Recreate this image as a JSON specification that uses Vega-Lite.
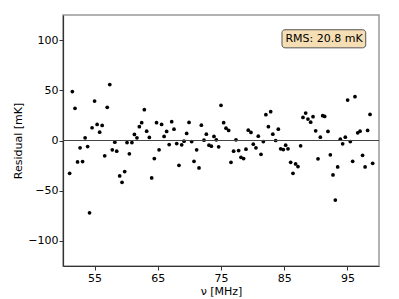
{
  "$schema": "https://vega.github.io/schema/vega-lite/v6.json",
  "width": 316,
  "height": 251,
  "autosize": {"type": "none"},
  "padding": {"left": 63, "top": 15, "right": 20, "bottom": 33},
  "background": "white",
  "config": {
    "view": {"stroke": "#999", "strokeWidth": 1.5},
    "font": "DejaVu Sans",
    "axis": {
      "grid": false,
      "domainColor": "#333",
      "domainWidth": 1.2,
      "tickColor": "#333",
      "tickSize": 4,
      "labelFont": "DejaVu Sans",
      "titleFont": "DejaVu Sans",
      "labelFontSize": 11,
      "titleFontSize": 11,
      "labelColor": "#000",
      "titleColor": "#000",
      "titleFontWeight": "normal",
      "labelFlush": false,
      "labelOverlap": false,
      "labelSeparation": -30
    }
  },
  "layer": [
    {
      "data": {"values": [
        {"nu": 51.05, "res": -32.7}, {"nu": 51.48, "res": 48.7}, {"nu": 51.9, "res": 32.0}, {"nu": 52.3, "res": -21.3},
        {"nu": 52.7, "res": -7.3}, {"nu": 53.1, "res": -21.0}, {"nu": 53.5, "res": 2.7}, {"nu": 53.9, "res": -6.0},
        {"nu": 54.2, "res": -72.0}, {"nu": 54.6, "res": 12.7}, {"nu": 55.0, "res": 39.3}, {"nu": 55.4, "res": 16.0},
        {"nu": 55.8, "res": 8.3}, {"nu": 56.2, "res": 15.0}, {"nu": 56.6, "res": -15.3}, {"nu": 57.0, "res": 33.0},
        {"nu": 57.4, "res": 55.7}, {"nu": 57.8, "res": -9.3}, {"nu": 58.2, "res": -1.7}, {"nu": 58.5, "res": -10.7},
        {"nu": 58.97, "res": -35.3}, {"nu": 59.34, "res": -41.7}, {"nu": 59.76, "res": -31.0}, {"nu": 60.13, "res": -2.0},
        {"nu": 60.5, "res": -13.3}, {"nu": 60.9, "res": -2.0}, {"nu": 61.3, "res": 6.0}, {"nu": 61.7, "res": 2.7},
        {"nu": 62.08, "res": 13.7}, {"nu": 62.45, "res": 17.7}, {"nu": 62.87, "res": 30.7}, {"nu": 63.24, "res": 9.3},
        {"nu": 63.66, "res": 3.0}, {"nu": 64.03, "res": -37.3}, {"nu": 64.45, "res": -18.0}, {"nu": 64.8, "res": 17.7},
        {"nu": 65.2, "res": -9.3}, {"nu": 65.6, "res": 16.0}, {"nu": 66.0, "res": 4.0}, {"nu": 66.4, "res": 9.0},
        {"nu": 66.8, "res": -4.0}, {"nu": 67.2, "res": 18.7}, {"nu": 67.56, "res": 11.3}, {"nu": 67.99, "res": -3.0},
        {"nu": 68.35, "res": -24.7}, {"nu": 68.78, "res": -4.3}, {"nu": 69.15, "res": -0.7}, {"nu": 69.57, "res": 7.0},
        {"nu": 69.94, "res": 18.0}, {"nu": 70.36, "res": -1.0}, {"nu": 70.73, "res": -20.7}, {"nu": 71.15, "res": -9.3},
        {"nu": 71.52, "res": -27.3}, {"nu": 71.89, "res": 15.3}, {"nu": 72.31, "res": 0.3}, {"nu": 72.68, "res": 6.3},
        {"nu": 73.1, "res": -4.7}, {"nu": 73.47, "res": -5.7}, {"nu": 73.89, "res": 4.0}, {"nu": 74.26, "res": 0.7},
        {"nu": 74.63, "res": -6.3}, {"nu": 75.0, "res": 35.0}, {"nu": 75.42, "res": 17.7}, {"nu": 75.79, "res": 12.3},
        {"nu": 76.21, "res": 10.0}, {"nu": 76.58, "res": -21.7}, {"nu": 77.0, "res": -10.7}, {"nu": 77.37, "res": 0.7},
        {"nu": 77.79, "res": -10.0}, {"nu": 78.16, "res": -16.7}, {"nu": 78.58, "res": -18.0}, {"nu": 78.95, "res": -8.7},
        {"nu": 79.32, "res": 10.3}, {"nu": 79.74, "res": 8.0}, {"nu": 80.11, "res": -3.7}, {"nu": 80.53, "res": -7.3},
        {"nu": 80.9, "res": 4.3}, {"nu": 81.33, "res": -13.7}, {"nu": 81.7, "res": -1.0}, {"nu": 82.1, "res": 25.7},
        {"nu": 82.5, "res": 13.7}, {"nu": 82.86, "res": 28.7}, {"nu": 83.2, "res": 6.3}, {"nu": 83.65, "res": 0.0},
        {"nu": 84.07, "res": 11.3}, {"nu": 84.44, "res": -8.3}, {"nu": 84.86, "res": -9.0}, {"nu": 85.23, "res": -4.7},
        {"nu": 85.6, "res": -8.3}, {"nu": 86.02, "res": -21.7}, {"nu": 86.39, "res": -32.7}, {"nu": 86.81, "res": -23.3},
        {"nu": 87.18, "res": -26.0}, {"nu": 87.6, "res": -5.3}, {"nu": 87.97, "res": 23.0}, {"nu": 88.4, "res": 27.3},
        {"nu": 88.76, "res": 21.3}, {"nu": 89.19, "res": 18.3}, {"nu": 89.56, "res": 23.7}, {"nu": 89.98, "res": 9.7},
        {"nu": 90.35, "res": -18.3}, {"nu": 90.72, "res": 3.3}, {"nu": 91.09, "res": 24.7}, {"nu": 91.4, "res": 24.0},
        {"nu": 91.93, "res": 9.0}, {"nu": 92.3, "res": -14.3}, {"nu": 92.72, "res": -34.3}, {"nu": 93.09, "res": -59.3},
        {"nu": 93.46, "res": -26.3}, {"nu": 93.88, "res": 1.3}, {"nu": 94.25, "res": -3.3}, {"nu": 94.67, "res": 3.3},
        {"nu": 95.04, "res": 40.3}, {"nu": 95.46, "res": -1.0}, {"nu": 95.83, "res": -20.7}, {"nu": 96.2, "res": 43.7},
        {"nu": 96.63, "res": 7.7}, {"nu": 97.0, "res": 9.3}, {"nu": 97.4, "res": -14.7}, {"nu": 97.8, "res": -26.3},
        {"nu": 98.2, "res": 10.0}, {"nu": 98.58, "res": 26.0}, {"nu": 99.0, "res": -22.7}
      ]},
      "mark": {"type": "circle", "size": 14, "color": "black", "opacity": 1},
      "encoding": {
        "x": {
          "field": "nu", "type": "quantitative",
          "scale": {"domain": [50, 100], "nice": false, "zero": false},
          "axis": {
            "title": "ν [MHz]",
            "titlePadding": 2,
            "values": [55, 60, 65, 70, 75, 80, 85, 90, 95],
            "labelOverlap": false,
            "labelSeparation": -30,
            "labelPadding": 2
          }
        },
        "y": {
          "field": "res", "type": "quantitative",
          "scale": {"domain": [-125, 125], "nice": false},
          "axis": {
            "title": "Residual [mK]",
            "titlePadding": 4,
            "values": [-100, -50, 0, 50, 100],
            "labelOverlap": false,
            "labelExpr": "replace(datum.label, '-', '−')",
            "labelPadding": 1
          }
        }
      }
    },
    {
      "data": {"values": [{"res": 0}]},
      "mark": {"type": "rule", "color": "#444", "strokeWidth": 1},
      "encoding": {"y": {"field": "res", "type": "quantitative"}}
    },
    {
      "data": {"values": [{"label": "RMS: 20.8 mK"}]},
      "mark": {"type": "rect", "fill": "#f5deb3", "stroke": "#555", "strokeWidth": 1, "cornerRadius": 3},
      "encoding": {
        "x": {"datum": 84.65, "type": "quantitative"},
        "x2": {"datum": 97.9},
        "y": {"datum": 110.3, "type": "quantitative"},
        "y2": {"datum": 92.3}
      }
    },
    {
      "data": {"values": [{"label": "RMS: 20.8 mK"}]},
      "mark": {"type": "text", "fontSize": 11, "font": "DejaVu Sans", "align": "center", "baseline": "middle", "color": "black"},
      "encoding": {
        "x": {"datum": 91.3, "type": "quantitative"},
        "y": {"datum": 101.3, "type": "quantitative"},
        "text": {"field": "label"}
      }
    }
  ]
}
